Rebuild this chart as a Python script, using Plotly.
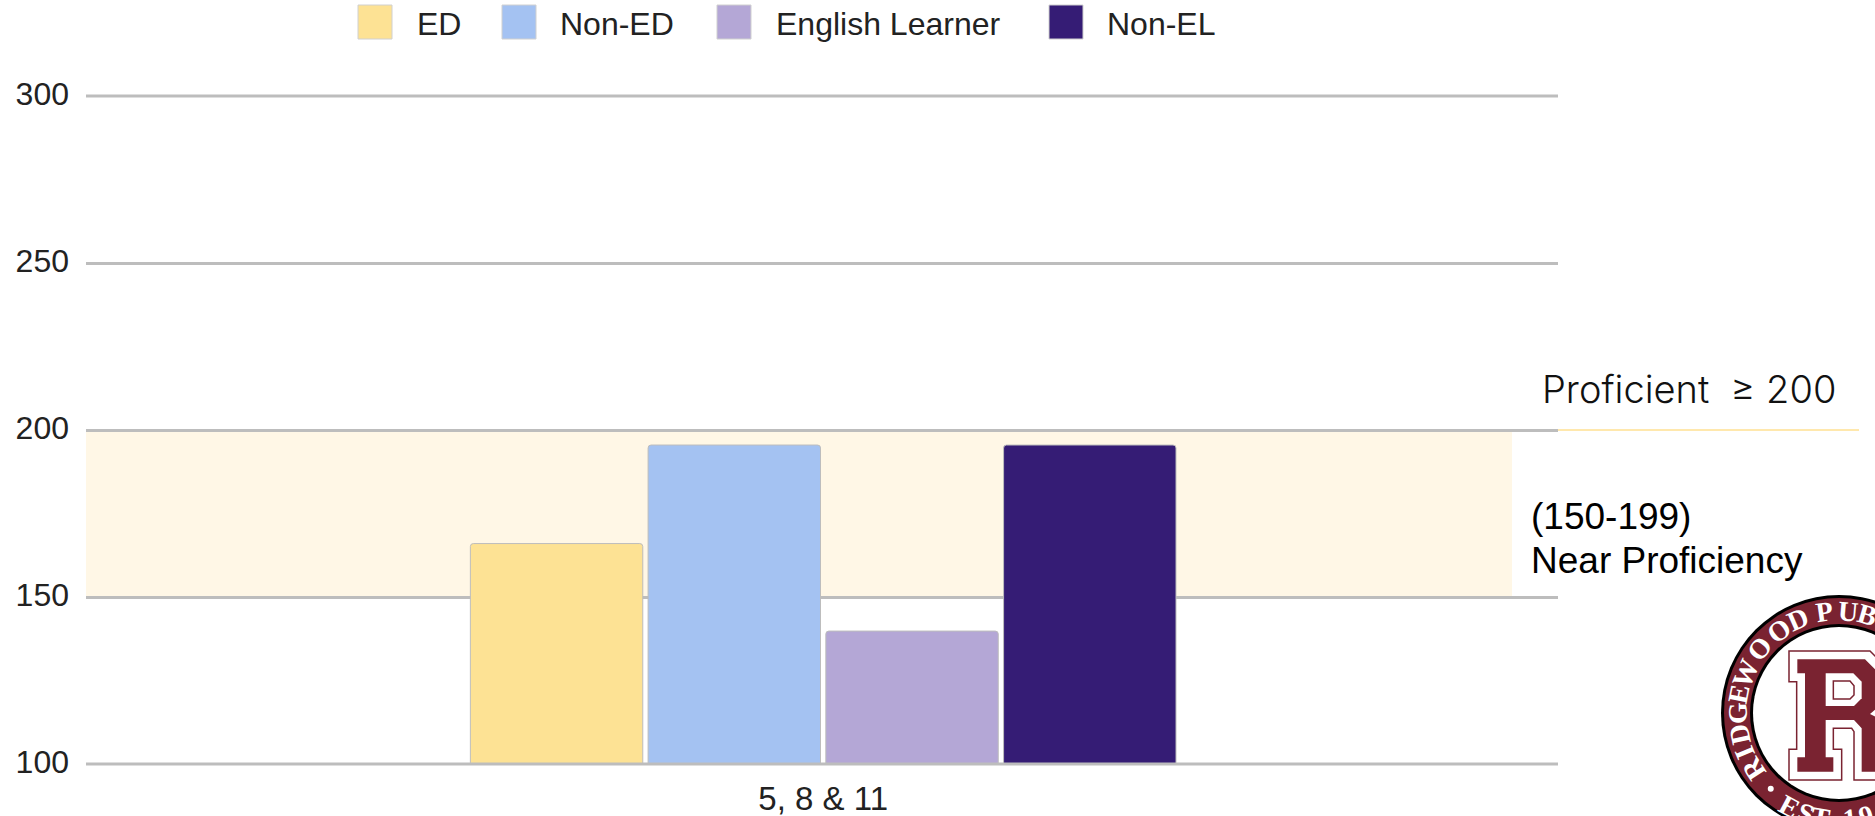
import math
import plotly.graph_objects as go

categories = ["5, 8 & 11"]
series_names = ["ED", "Non-ED", "English Learner", "Non-EL"]
series_values = [[166], [195.5], [139.8], [195.5]]
series_colors = ["#FDE294", "#A4C2F2", "#B4A7D6", "#351C75"]
y_ticks = [100, 150, 200, 250, 300]

W, H = 1875, 816
L, R, T, B = 86, 1558, 96, 764
MAROON = "#7A2331"
GRID = "#BDBDBD"


def px(x):
    return (x - L) / (R - L)


def py(y):
    return (B - y) / (B - T)


fig = go.Figure()
for name, vals, col in zip(series_names, series_values, series_colors):
    fig.add_trace(go.Bar(x=categories, y=vals, name=name, marker_color=col,
                         marker_line_color=GRID, marker_line_width=1,
                         marker_cornerradius=3, showlegend=False))

shapes = []
annos = []


def rect(x0, y0, x1, y1, fill, line=None, lw=0):
    shapes.append(dict(type="rect", xref="paper", yref="paper", x0=px(x0), x1=px(x1),
                       y0=py(y0), y1=py(y1), fillcolor=fill,
                       line=dict(color=line or fill, width=lw), layer="above"))


def circle(cx, cy, r, fill):
    shapes.append(dict(type="circle", xref="paper", yref="paper", x0=px(cx - r), x1=px(cx + r),
                       y0=py(cy - r), y1=py(cy + r), fillcolor=fill, line=dict(width=0), layer="above"))


def poly(pts, fill, line=None, lw=0):
    d = "M " + " L ".join(f"{px(1780 + a / 3):.5f},{py(640 + b / 3):.5f}" for a, b in pts) + " Z"
    shapes.append(dict(type="path", xref="paper", yref="paper", path=d, fillcolor=fill,
                       line=dict(color=line or fill, width=lw), layer="above"))


def text(x, y, s, size, family="Liberation Sans", color="#000000", anchor="left", angle=0, weight=None):
    f = dict(size=size, family=family, color=color)
    if weight:
        f["weight"] = weight
    annos.append(dict(xref="paper", yref="paper", x=px(x), y=py(y), text=s, showarrow=False,
                      xanchor=anchor, yanchor="middle", textangle=angle, font=f))


# Near-proficiency band, edge gridlines and proficient line
shapes.append(dict(type="rect", xref="paper", yref="y", x0=0, x1=px(1512), y0=150, y1=200,
                   fillcolor="#FFF7E6", line=dict(width=0), layer="below"))
for frac in (0, 1):
    shapes.append(dict(type="line", xref="paper", yref="paper", x0=0, x1=1, y0=frac, y1=frac,
                       line=dict(color=GRID, width=3), layer="above"))
shapes.append(dict(type="line", xref="paper", yref="y", x0=1, x1=px(1859), y0=200, y1=200,
                   line=dict(color="#FFE8AD", width=2), layer="above"))

# Legend
swatches = [358, 502, 717, 1049]
labels_x = [415, 558, 774, 1105]
for sx, lx, name, col in zip(swatches, labels_x, series_names, series_colors):
    rect(sx, 5, sx + 34, 39, col, "#D0D0D0", 1)
    text(lx, 24, name, 32, color="#222222")

text(1540, 389, "Proficient  ≥ 200", 38, family="Inter", color="#111111", weight=300)
text(1529, 516, "(150-199)", 37)
text(1529, 560, "Near Proficiency", 37)

# Logo
cx, cy = 1839, 713
circle(cx, cy, 118, "#000000")
circle(cx, cy, 115, MAROON)
circle(cx, cy, 89, "#000000")
circle(cx, cy, 86, "#FFFFFF")

outline = [(27, 33), (270, 33), (300, 63), (300, 420), (222, 420), (222, 275), (215, 265), (160, 265),
           (160, 328), (185, 328), (185, 420), (27, 420), (27, 328), (50, 328), (50, 125), (27, 125)]
poly(outline, "#FFFFFF", MAROON, 1.5)
body = [(52, 58), (255, 58), (300, 103), (300, 395), (245, 395), (245, 265), (222, 240), (137, 240),
        (137, 352), (160, 352), (160, 395), (52, 395), (52, 352), (75, 352), (75, 100), (52, 100)]
poly(body, MAROON)
poly([(137, 100), (220, 100), (245, 125), (245, 175), (222, 198), (137, 198)], "#FFFFFF")
poly([(160, 123), (210, 123), (222, 137), (222, 165), (210, 177), (160, 177)], "#FFFFFF", MAROON, 1.5)
poly([(290, 205), (270, 222), (290, 232)], "#FFFFFF")

ring_top = list("RIDGEWOOD PUB")
ring_angles = [-123, -113, -102, -90, -79, -67, -51, -36, -24, -16, -8, 5, 16]
for ch, th in zip(ring_top, ring_angles):
    if ch == " ":
        continue
    t = math.radians(th)
    text(cx + 102 * math.sin(t), cy - 102 * math.cos(t), ch, 28, family="Liberation Serif",
         color="#FFFFFF", anchor="center", angle=th, weight=700)

ring_bottom = list("EST.19")
ring_bottom_angles = [-152, -162, -170, -177, -186, -195]
for ch, th in zip(ring_bottom, ring_bottom_angles):
    t = math.radians(th)
    text(cx + 106 * math.sin(t), cy - 106 * math.cos(t), ch, 28, family="Liberation Serif",
         color="#FFFFFF", anchor="center", angle=th + 180, weight=700)
t = math.radians(-138)
circle(cx + 102 * math.sin(t), cy - 102 * math.cos(t), 3, "#FFFFFF")

fig.update_layout(
    width=W, height=H, margin=dict(l=L, r=W - R, t=T, b=H - B, autoexpand=False),
    paper_bgcolor="#FFFFFF", plot_bgcolor="rgba(0,0,0,0)",
    barmode="group", bargap=0.517, bargroupgap=0.03,
    shapes=shapes, annotations=annos,
    font=dict(family="Liberation Sans", color="#222222"),
)
fig.update_xaxes(range=[-0.5008, 0.4992], showgrid=False, showline=False, ticks="", automargin=False,
                 tickfont=dict(size=33, color="#222222"), ticklabelstandoff=12)
fig.update_yaxes(range=[100, 300], tickvals=y_ticks, gridcolor=GRID, gridwidth=3, zeroline=False,
                 showline=False, ticks="", automargin=False, tickfont=dict(size=32, color="#222222"),
                 ticklabelstandoff=16, ticklabelshift=-2)
fig.write_html("out.html", config={"displayModeBar": False},
               post_script="document.body.style.margin='0';")
